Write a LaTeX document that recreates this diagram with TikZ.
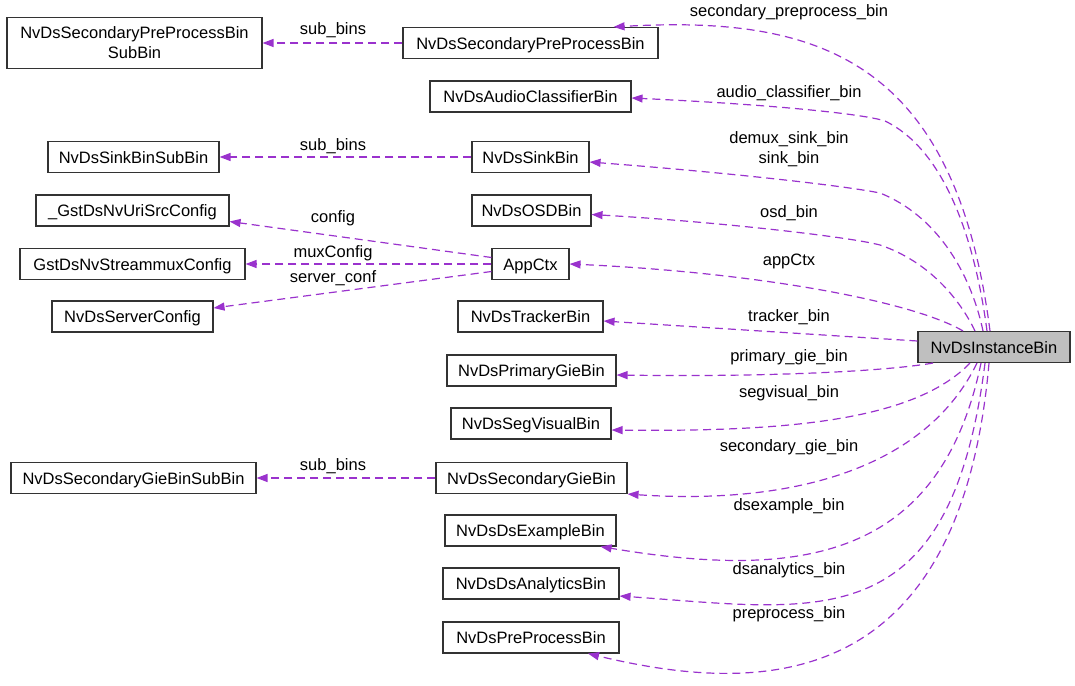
\documentclass[tikz,border=0pt]{standalone}
\usepackage{fontspec}
\setmainfont{Liberation Sans}
\usepackage{tikz}
\usetikzlibrary{arrows.meta}
\definecolor{relcol}{HTML}{9A32CD}
\definecolor{boxline}{HTML}{333333}
\definecolor{instfill}{HTML}{BFBFBF}
\newcommand{\nfont}{\fontsize{16.5}{20}\selectfont}

\tikzset{
  cls/.style={draw=boxline, line width=1.1pt, fill=white, inner sep=0pt, minimum height=31pt, font=\nfont},
  one/.style={cls, text height=12pt, text depth=0pt},
  lbl/.style={inner sep=0pt, anchor=base, font=\nfont},
  rel/.style={draw=relcol, line width=1.2pt, dash pattern=on 8pt off 5pt, -{Triangle[length=11pt,width=8pt]}}
}

\begin{document}
\begin{tikzpicture}[x=1pt, y=-1pt]
  \useasboundingbox (0,0) rectangle (1075,685);

  % Draw classes, left column
  \node[cls, minimum width=255pt, minimum height=51pt, align=center] (subpre) at (134.5,43) {NvDsSecondaryPreProcessBin\\SubBin};
  \node[one, minimum width=171pt] (sinksub) at (133.5,157) {NvDsSinkBinSubBin};
  \node[one, minimum width=193pt] (uri) at (132.5,210.5) {\_GstDsNvUriSrcConfig};
  \node[one, minimum width=225pt] (mux) at (132.5,264) {GstDsNvStreammuxConfig};
  \node[one, minimum width=161pt] (server) at (132.5,316.5) {NvDsServerConfig};
  \node[one, minimum width=245pt] (secgiesub) at (133.5,478) {NvDsSecondaryGieBinSubBin};

  % Draw classes, middle column
  \node[one, minimum width=255pt] (secpre) at (530.5,43) {NvDsSecondaryPreProcessBin};
  \node[one, minimum width=201pt] (audio) at (530.5,96.5) {NvDsAudioClassifierBin};
  \node[one, minimum width=117pt] (sink) at (530.5,157) {NvDsSinkBin};
  \node[one, minimum width=119pt] (osd) at (531.5,210.5) {NvDsOSDBin};
  \node[one, minimum width=77pt] (appctx) at (530.5,264) {AppCtx};
  \node[one, minimum width=145pt] (tracker) at (530.5,316.5) {NvDsTrackerBin};
  \node[one, minimum width=169pt] (primary) at (531.5,370.5) {NvDsPrimaryGieBin};
  \node[one, minimum width=160pt] (segvis) at (531,423.5) {NvDsSegVisualBin};
  \node[one, minimum width=191pt] (secgie) at (531.5,478) {NvDsSecondaryGieBin};
  \node[one, minimum width=171pt] (dsex) at (530.5,530.5) {NvDsDsExampleBin};
  \node[one, minimum width=176pt] (dsana) at (531,583.5) {NvDsDsAnalyticsBin};
  \node[one, minimum width=176pt] (prepro) at (531,637.5) {NvDsPreProcessBin};

  % Draw the instance bin
  \node[one, minimum width=152pt, fill=instfill] (inst) at (994,347) {NvDsInstanceBin};

  % Draw members of NvDsInstanceBin
  \draw[rel] ([xshift=-4pt]inst.north) .. controls (955,60) and (820,15) .. ([xshift=-45pt]secpre.north east);
  \draw[rel] ([xshift=-7pt]inst.north) .. controls (975,240) and (945,150) .. (885,121) .. controls (860,113) and (760,104) .. ([yshift=-1.5pt]audio.east);
  \draw[rel] ([xshift=-11pt]inst.north) .. controls (970,270) and (935,215) .. (880,193) .. controls (840,185) and (720,172) .. ([yshift=-5pt]sink.east);
  \draw[rel] ([xshift=-19pt]inst.north) .. controls (960,300) and (930,262) .. (880,245) .. controls (850,237) and (720,222) .. ([yshift=-4pt]osd.east);
  \draw[rel] ([xshift=-31pt]inst.north) .. controls (910,300) and (750,272) .. (appctx.east);
  \draw[rel] ([yshift=6pt]inst.west) -- ([yshift=-4.5pt]tracker.east);
  \draw[rel] ([xshift=-61pt]inst.south) .. controls (880,372) and (760,377) .. ([yshift=-4.5pt]primary.east);
  \draw[rel] ([xshift=-24pt]inst.south) .. controls (915,420) and (790,432) .. ([yshift=-6.5pt]segvis.east);
  \draw[rel] ([xshift=-17pt]inst.south) .. controls (925,470) and (790,505) .. (secgie.south east);
  \draw[rel] ([xshift=-13pt]inst.south) .. controls (940,560) and (800,580) .. ([xshift=-16pt]dsex.south east);
  \draw[rel] ([xshift=-9pt]inst.south) .. controls (950,640) and (820,610) .. ([yshift=-12.5pt]dsana.east);
  \draw[rel] ([xshift=-5pt]inst.south) .. controls (960,695) and (760,695) .. ([xshift=57pt]prepro.south);

  % Draw the other members
  \draw[rel] (secpre.west) -- (subpre.east);
  \draw[rel] (sink.west) -- (sinksub.east);
  \draw[rel] ([yshift=6.5pt]appctx.west) -- ([yshift=-11pt]uri.east);
  \draw[rel] (appctx.west) -- (mux.east);
  \draw[rel] ([yshift=-7.5pt]appctx.west) -- ([yshift=8.5pt]server.east);
  \draw[rel] (secgie.west) -- (secgiesub.east);

  % Member names
  \node[lbl] (l-secpre) at (789,17) {secondary\_preprocess\_bin};
  \node[lbl] (l-audio) at (789,97) {audio\_classifier\_bin};
  \node[lbl] (l-demux) at (789,143) {demux\_sink\_bin};
  \node[lbl] (l-sink) at (789,163) {sink\_bin};
  \node[lbl] (l-osd) at (789,217) {osd\_bin};
  \node[lbl] (l-appctx) at (789,265) {appCtx};
  \node[lbl] (l-tracker) at (789,321) {tracker\_bin};
  \node[lbl] (l-primary) at (789,361) {primary\_gie\_bin};
  \node[lbl] (l-segvis) at (789,397) {segvisual\_bin};
  \node[lbl] (l-secgie) at (789,451) {secondary\_gie\_bin};
  \node[lbl] (l-dsex) at (789,510) {dsexample\_bin};
  \node[lbl] (l-dsana) at (789,574) {dsanalytics\_bin};
  \node[lbl] (l-prepro) at (789,618) {preprocess\_bin};
  \node[lbl] (l-subpre) at (333,35) {sub\_bins};
  \node[lbl] (l-sinksub) at (333,150) {sub\_bins};
  \node[lbl] (l-uri) at (333,222) {config};
  \node[lbl] (l-mux) at (333,257) {muxConfig};
  \node[lbl] (l-server) at (333,282) {server\_conf};
  \node[lbl] (l-secgiesub) at (333,470) {sub\_bins};
\end{tikzpicture}
\end{document}
